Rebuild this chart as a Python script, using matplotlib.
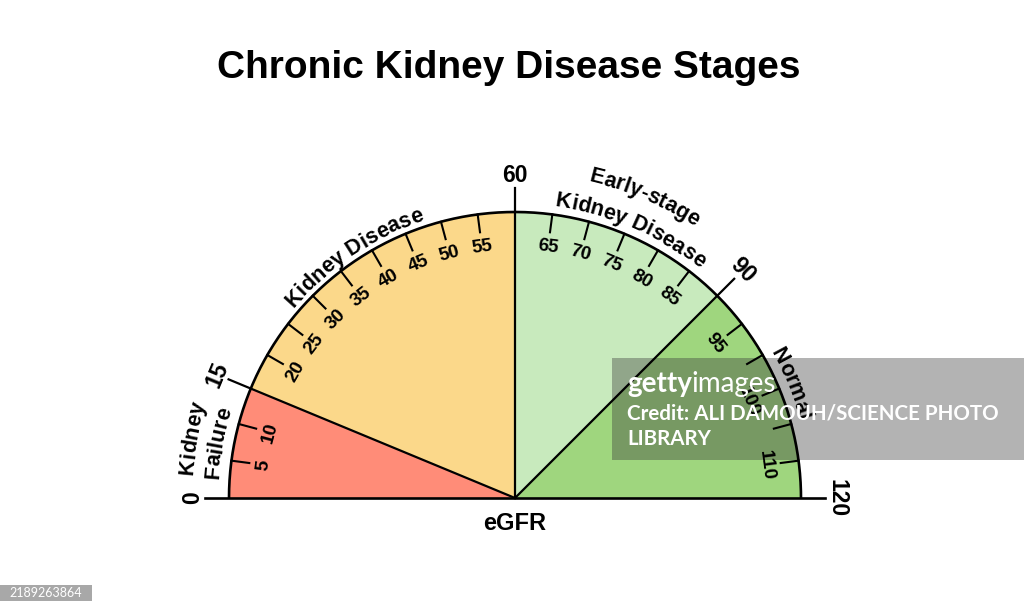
import numpy as np
import matplotlib
matplotlib.use("Agg")
import matplotlib.pyplot as plt
from matplotlib.patches import Wedge, Rectangle
from matplotlib.font_manager import FontProperties
from matplotlib.textpath import text_to_path

# gauge data (eGFR scale)
stage_bounds = [0, 15, 60, 90, 120]
stage_colors = ["#FF8C78", "#FBD88A", "#C8EABD", "#9FD67E"]
major_ticks = [0, 15, 60, 90, 120]
minor_ticks = [5, 10, 20, 25, 30, 35, 40, 45, 50, 55,
               65, 70, 75, 80, 85, 95, 100, 105, 110, 115]
# number labels as printed, and the tick each one sits beside
minor_labels = ["5", "10", "20", "25", "30", "35", "40", "45", "50", "55",
                "65", "70", "75", "80", "85", "95", "100", "110"]
minor_label_at = [5, 10, 20, 25, 30, 35, 40, 45, 50, 55,
                  65, 70, 75, 80, 85, 95, 105, 115]
stage_names = [["Kidney", "Failure"], ["Kidney Disease"],
               ["Early-stage", "Kidney Disease"], ["Normal"]]
title = "Chronic Kidney Disease Stages"
axis_label = "eGFR"

W, H = 1024, 614
DPI = 100
cx, cy = 515, H - 498
R = 286
FONT = "Liberation Sans"


def ang(v):
    return 180 - 1.5 * v


def pt(v, r):
    t = np.radians(ang(v))
    return cx + r * np.cos(t), cy + r * np.sin(t)


def text_width(s, size, weight="bold", family=FONT):
    fp = FontProperties(family=family, weight=weight, size=size)
    w, h, d = text_to_path.get_text_width_height_descent(s, fp, ismath=False)
    return w * DPI / 72.0


def curved_text(ax, s, v_center, r_center, size):
    # one glyph at a time, following the arc clockwise
    em = size * DPI / 72.0
    r = r_center - 0.36 * em
    total = text_width(s, size)
    theta0 = np.radians(ang(v_center))
    for i, ch in enumerate(s):
        if ch == " ":
            continue
        a = text_width(s[:i], size) if i > 0 else 0.0
        b = text_width(s[:i + 1], size)
        off = (a + b) / 2 - total / 2
        t = theta0 - off / r
        x, y = cx + r * np.cos(t), cy + r * np.sin(t)
        ax.text(x, y, ch, fontsize=size, fontweight="bold", family=FONT,
                ha="center", va="baseline", rotation=np.degrees(t) - 90,
                rotation_mode="anchor")


fig = plt.figure(figsize=(W / DPI, H / DPI), dpi=DPI)
ax = fig.add_axes([0, 0, 1, 1])
ax.set_xlim(0, W)
ax.set_ylim(0, H)
ax.axis("off")

# coloured sectors
for i in range(len(stage_colors)):
    a, b = stage_bounds[i], stage_bounds[i + 1]
    ax.add_patch(Wedge((cx, cy), R, ang(b), ang(a), facecolor=stage_colors[i],
                       edgecolor="none"))

# outer arc
vv = np.linspace(0, 120, 400)
xs, ys = pt(vv, R)
ax.plot(xs, ys, color="black", lw=1.9, solid_capstyle="butt")

# baseline
ax.plot([cx - 310, cx + 310], [cy, cy], color="black", lw=1.9)

# stage boundary lines
for v in [15, 60, 90]:
    x1, y1 = pt(v, 310)
    ax.plot([cx, x1], [cy, y1], color="black", lw=1.6)

# minor ticks
for v in minor_ticks:
    x0, y0 = pt(v, R)
    x1, y1 = pt(v, R - 18)
    ax.plot([x0, x1], [y0, y1], color="black", lw=1.5)

for lab, v in zip(minor_labels, minor_label_at):
    lx, ly = pt(v, R - 33)
    ax.text(lx, ly, lab, fontsize=13.5, fontweight="bold", family=FONT,
            ha="center", va="center", rotation=ang(v) - 90,
            rotation_mode="anchor")

# major labels
for v in major_ticks:
    lx, ly = pt(v, 322)
    ax.text(lx, ly, str(v), fontsize=16.5, fontweight="bold", family=FONT,
            ha="center", va="center", rotation=ang(v) - 90,
            rotation_mode="anchor")

# stage names along the arc
name_layout = [[(7, 331), (7, 305)], [(37.5, 300)], [(75.5, 333), (75.5, 302)],
               [(105, 302)]]
for names, places in zip(stage_names, name_layout):
    for s, (v, r) in zip(names, places):
        curved_text(ax, s, v, r, 15.5)

ax.text(cx, H - 523, axis_label, fontsize=17, fontweight="bold", family=FONT,
        ha="center", va="center")
ax.text(509, H - 78, title, fontsize=28, fontweight="bold", family=FONT,
        ha="center", va="baseline")

# watermark overlay
ax.add_patch(Rectangle((612, H - 460), W - 612, 102, facecolor="#383838",
                       alpha=0.38, edgecolor="none"))
gw = text_width("getty", 20, weight="bold", family="Lato")
ax.text(627, H - 392, "getty", fontsize=20, fontweight="bold", family="Lato",
        color="white", va="baseline")
ax.text(627 + gw, H - 392, "images", fontsize=20, fontweight="normal",
        family="Lato", color="white", va="baseline")
ax.text(627, H - 420, "Credit: ALI DAMOUH/SCIENCE PHOTO", fontsize=14.8,
        fontweight="bold", family="Lato", color="white", va="baseline")
ax.text(627, H - 445, "LIBRARY", fontsize=14.8, fontweight="bold",
        family="Lato", color="white", va="baseline")

# image id tag
ax.add_patch(Rectangle((0, H - 601), 92, 16, facecolor="#A8A8A8",
                       edgecolor="none"))
ax.text(46, H - 593, "2189263864", fontsize=9, color="white",
        family="Lato", ha="center", va="center")

fig.savefig("out.png", dpi=DPI)
